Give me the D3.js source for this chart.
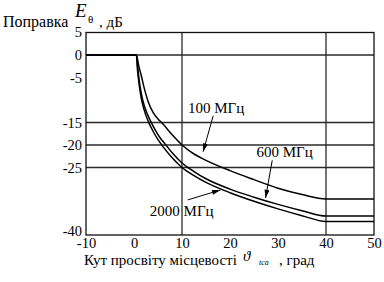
<!DOCTYPE html>
<html>
<head>
<meta charset="utf-8">
<script src="https://cdn.jsdelivr.net/npm/d3@7"></script>
<style>
  body { margin: 0; background: #fff; }
  svg, svg text { font-family: "Liberation Serif", "DejaVu Serif", serif; fill: #000; }
  .tick-label { font-size: 14.5px; }
  .label { font-size: 15px; }
</style>
</head>
<body>
<svg class="correction" width="384" height="282"></svg>
<script>
// angle (deg) vs correction (dB)
var xTicks = [-10, 0, 10, 20, 30, 40, 50];
var yTicks = [5, 0, -5, -15, -20, -25, -40];
var hGrid = [0, -15, -20, -25];
var vGrid = [10, 40];

var angle100  = [-10, 0.5, 1, 1.5, 2, 2.5, 3, 4, 5, 6, 8, 10, 12.5, 15, 20, 25, 30, 35, 40, 50];
var value100  = [0, 0, -2.5, -4.5, -6.8, -8.8, -10.5, -12.8, -14.2, -15.3, -17.8, -20, -22, -23.4, -25.7, -27.7, -29.6, -31, -32, -32];

var angle600  = [-10, 0.5, 0.8, 1.2, 1.7, 2.3, 3.5, 4.5, 5.5, 6.5, 8, 10, 12.5, 15, 20, 25, 30, 35, 40, 50];
var value600  = [0, 0, -3, -6.5, -9.5, -11.8, -14.8, -16.8, -18.5, -19.8, -21.8, -24, -25.9, -27.5, -29.8, -31.6, -33.2, -34.6, -35.8, -35.8];

var angle2000 = [-10, 0.5, 0.7, 1, 1.5, 2, 3, 4, 5, 6, 8, 10, 12.5, 15, 20, 25, 30, 35, 40, 50];
var value2000 = [0, 0, -3, -6, -9.5, -11.8, -14.8, -17, -18.8, -20.3, -22.9, -25, -26.8, -28.3, -30.6, -32.5, -34.2, -35.7, -37, -37];

var margin = {top: 32.5, left: 86, right: 10, bottom: 47},
    width = 384 - margin.left - margin.right,
    height = 282 - margin.top - margin.bottom;

var svg = d3.select(".correction");

svg.append("defs").append("marker")
    .attr("id", "arrow")
    .attr("viewBox", "0 -3 10 6")
    .attr("refX", 10)
    .attr("refY", 0)
    .attr("markerWidth", 9)
    .attr("markerHeight", 5)
    .attr("markerUnits", "userSpaceOnUse")
    .attr("orient", "auto")
  .append("path")
    .attr("d", "M0,-3L10,0L0,3Z")
    .attr("fill", "#000");

var chart = svg.append("g")
    .attr("transform", "translate(" + margin.left + "," + margin.top + ")");

var x = d3.scaleLinear().domain([-10, 50]).range([0, width]);
var y = d3.scaleLinear().domain([-40, 5]).range([height, 0]);

// grid
chart.selectAll(".hgrid")
    .data(hGrid)
  .enter().append("line")
    .attr("x1", 0).attr("x2", width)
    .attr("y1", function(d) { return y(d); })
    .attr("y2", function(d) { return y(d); })
    .attr("stroke", "#2a2a2a").attr("stroke-width", 1.3);

chart.selectAll(".vgrid")
    .data(vGrid)
  .enter().append("line")
    .attr("y1", 0).attr("y2", height)
    .attr("x1", function(d) { return x(d); })
    .attr("x2", function(d) { return x(d); })
    .attr("stroke", "#2a2a2a").attr("stroke-width", 1.3);

chart.append("rect")
    .attr("width", width).attr("height", height)
    .attr("fill", "none").attr("stroke", "#111").attr("stroke-width", 1.3);

// axes: labels only, plain hyphen minus
var fmt = function(d) { return String(d); };
var xAxis = chart.append("g")
    .attr("transform", "translate(0," + height + ")")
    .call(d3.axisBottom(x).tickValues(xTicks).tickSize(0).tickPadding(3).tickFormat(fmt));
var yAxis = chart.append("g")
    .call(d3.axisLeft(y).tickValues(yTicks).tickSize(0).tickPadding(4).tickFormat(fmt));

[xAxis, yAxis].forEach(function(a) {
  a.attr("font-family", null).attr("font-size", null);
  a.select(".domain").remove();
  a.selectAll("text")
      .attr("class", "tick-label")
      .style("fill", "#000");
});
// bottom y label sits a little above the corner
yAxis.selectAll(".tick")
    .filter(function(d) { return d === -40; })
    .select("text").attr("dy", "0.02em");
yAxis.selectAll(".tick")
    .filter(function(d) { return d === 5; })
    .select("text").attr("dy", "0.25em");

// curves
var line = d3.line()
    .x(function(d) { return x(d[0]); })
    .y(function(d) { return y(d[1]); })
    .curve(d3.curveMonotoneX);

[[angle100, value100], [angle600, value600], [angle2000, value2000]].forEach(function(s) {
  chart.append("path")
      .datum(d3.zip(s[0], s[1]))
      .attr("fill", "none")
      .attr("stroke", "#000")
      .attr("stroke-width", 1.5)
      .attr("d", line);
});

// curve labels with arrows
var notes = [
  {text: "100 МГц", tx: 11.25, ty: -12.9, ax1: 16.5, ay1: -13.5, ax2: 14.4, ay2: -21.5},
  {text: "600 МГц", tx: 25.5, ty: -22.6, ax1: 28.8, ay1: -23.4, ax2: 27.4, ay2: -31.8},
  {text: "2000 МГц", tx: 3.3, ty: -35.8, ax1: 11.2, ay1: -32.2, ax2: 18, ay2: -30.0}
];

chart.selectAll(".note")
    .data(notes)
  .enter().append("text")
    .attr("class", "label")
    .attr("x", function(d) { return x(d.tx); })
    .attr("y", function(d) { return y(d.ty); })
    .text(function(d) { return d.text; });

chart.selectAll(".arrow")
    .data(notes)
  .enter().append("line")
    .attr("x1", function(d) { return x(d.ax1); })
    .attr("y1", function(d) { return y(d.ay1); })
    .attr("x2", function(d) { return x(d.ax2); })
    .attr("y2", function(d) { return y(d.ay2); })
    .attr("stroke", "#000").attr("stroke-width", 1)
    .attr("marker-end", "url(#arrow)");

// y title
svg.append("text")
    .attr("class", "label")
    .style("font-size", "16px")
    .attr("x", 3).attr("y", 27)
    .text("Поправка");
svg.append("text")
    .attr("x", 75).attr("y", 17)
    .style("font-style", "italic").style("font-size", "19px")
    .text("E");
svg.append("text")
    .attr("x", 88).attr("y", 23)
    .style("font-size", "11px")
    .text("θ");
svg.append("text")
    .attr("class", "label")
    .attr("x", 99).attr("y", 27)
    .text(", дБ");

// x title
svg.append("text")
    .attr("class", "label")
    .attr("x", 84).attr("y", 265)
    .text("Кут просвіту місцевості");
svg.append("text")
    .attr("x", 243).attr("y", 261)
    .style("font-style", "italic").style("font-size", "15px")
    .text("ϑ");
svg.append("text")
    .attr("x", 259).attr("y", 265)
    .style("font-style", "italic").style("font-size", "8px")
    .text("tca");
svg.append("text")
    .attr("class", "label")
    .attr("x", 279).attr("y", 265)
    .text(",  град");
</script>
</body>
</html>
